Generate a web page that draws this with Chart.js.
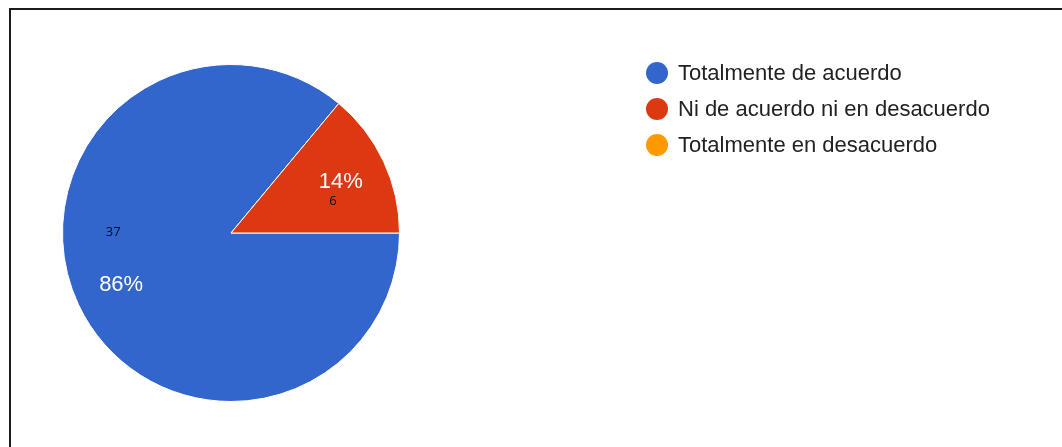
<!DOCTYPE html>
<html>
<head>
<meta charset="utf-8">
<script src="https://cdn.jsdelivr.net/npm/chart.js@4/dist/chart.umd.min.js"></script>
<style>
  html, body { margin: 0; padding: 0; background: #ffffff; }
  #wrap { position: relative; width: 1062px; height: 447px; overflow: hidden; background: #fff; }
  #frame { position: absolute; left: 9px; top: 8px; right: -10px; bottom: -10px;
           border-top: 2px solid #1c1c1c; border-left: 2px solid #1c1c1c; box-sizing: border-box; }
  #c { position: absolute; left: 0; top: 0; }
</style>
</head>
<body>
<div id="wrap">
  <div id="frame"></div>
  <canvas id="c" width="1062" height="447"></canvas>
</div>
<script>
const categories = ["Totalmente de acuerdo", "Ni de acuerdo ni en desacuerdo", "Totalmente en desacuerdo"];
const counts = [37, 6, 0];
const colors = ["#3366CC", "#DC3912", "#FF9900"];

const total = counts.reduce((a, b) => a + b, 0);

const sliceLabels = {
  id: 'sliceLabels',
  afterDatasetsDraw(chart) {
    const ctx = chart.ctx;
    const meta = chart.getDatasetMeta(0);
    meta.data.forEach((arc, i) => {
      const v = counts[i];
      if (!v) return;
      const p = arc.getProps(['x', 'y', 'startAngle', 'endAngle', 'outerRadius'], true);
      const mid = (p.startAngle + p.endAngle) / 2;
      const r = p.outerRadius * 0.72;
      const lx = p.x + Math.cos(mid) * r;
      const ly = p.y + Math.sin(mid) * r;
      ctx.save();
      ctx.textAlign = 'center';
      ctx.textBaseline = 'middle';
      ctx.fillStyle = '#ffffff';
      ctx.font = '22px "Liberation Sans", Arial, sans-serif';
      ctx.fillText(Math.round(v / total * 100) + '%', lx, ly);
      // count label
      ctx.fillStyle = '#0a0a0a';
      ctx.font = '13px "Open Sans", "Liberation Sans", sans-serif';
      const dy = i === 0 ? -52 : 20;
      const dx = -8;
      ctx.fillText(String(v), lx + dx, ly + dy);
      ctx.restore();
    });
  }
};

const sideLegend = {
  id: 'sideLegend',
  afterDraw(chart) {
    const ctx = chart.ctx;
    const ds = chart.data.datasets[0];
    const x0 = 657, y0 = 73, step = 36;
    chart.data.labels.forEach((lab, i) => {
      const y = y0 + i * step;
      ctx.save();
      ctx.beginPath();
      ctx.fillStyle = ds.backgroundColor[i];
      ctx.arc(x0, y, 11, 0, Math.PI * 2);
      ctx.fill();
      ctx.fillStyle = '#222222';
      ctx.font = '22px "Liberation Sans", Arial, sans-serif';
      ctx.textAlign = 'left';
      ctx.textBaseline = 'middle';
      ctx.fillText(lab, x0 + 21, y + 1);
      ctx.restore();
    });
  }
};

new Chart(document.getElementById('c'), {
  type: 'pie',
  data: {
    labels: categories,
    datasets: [{
      data: counts,
      backgroundColor: colors,
      borderColor: '#ffffff',
      borderWidth: 1
    }]
  },
  options: {
    responsive: false,
    animation: false,
    rotation: 90,
    layout: { padding: { left: 62, top: 64, right: 662, bottom: 45 } },
    plugins: { legend: { display: false }, tooltip: { enabled: false } },
    events: []
  },
  plugins: [sliceLabels, sideLegend]
});
</script>
</body>
</html>
